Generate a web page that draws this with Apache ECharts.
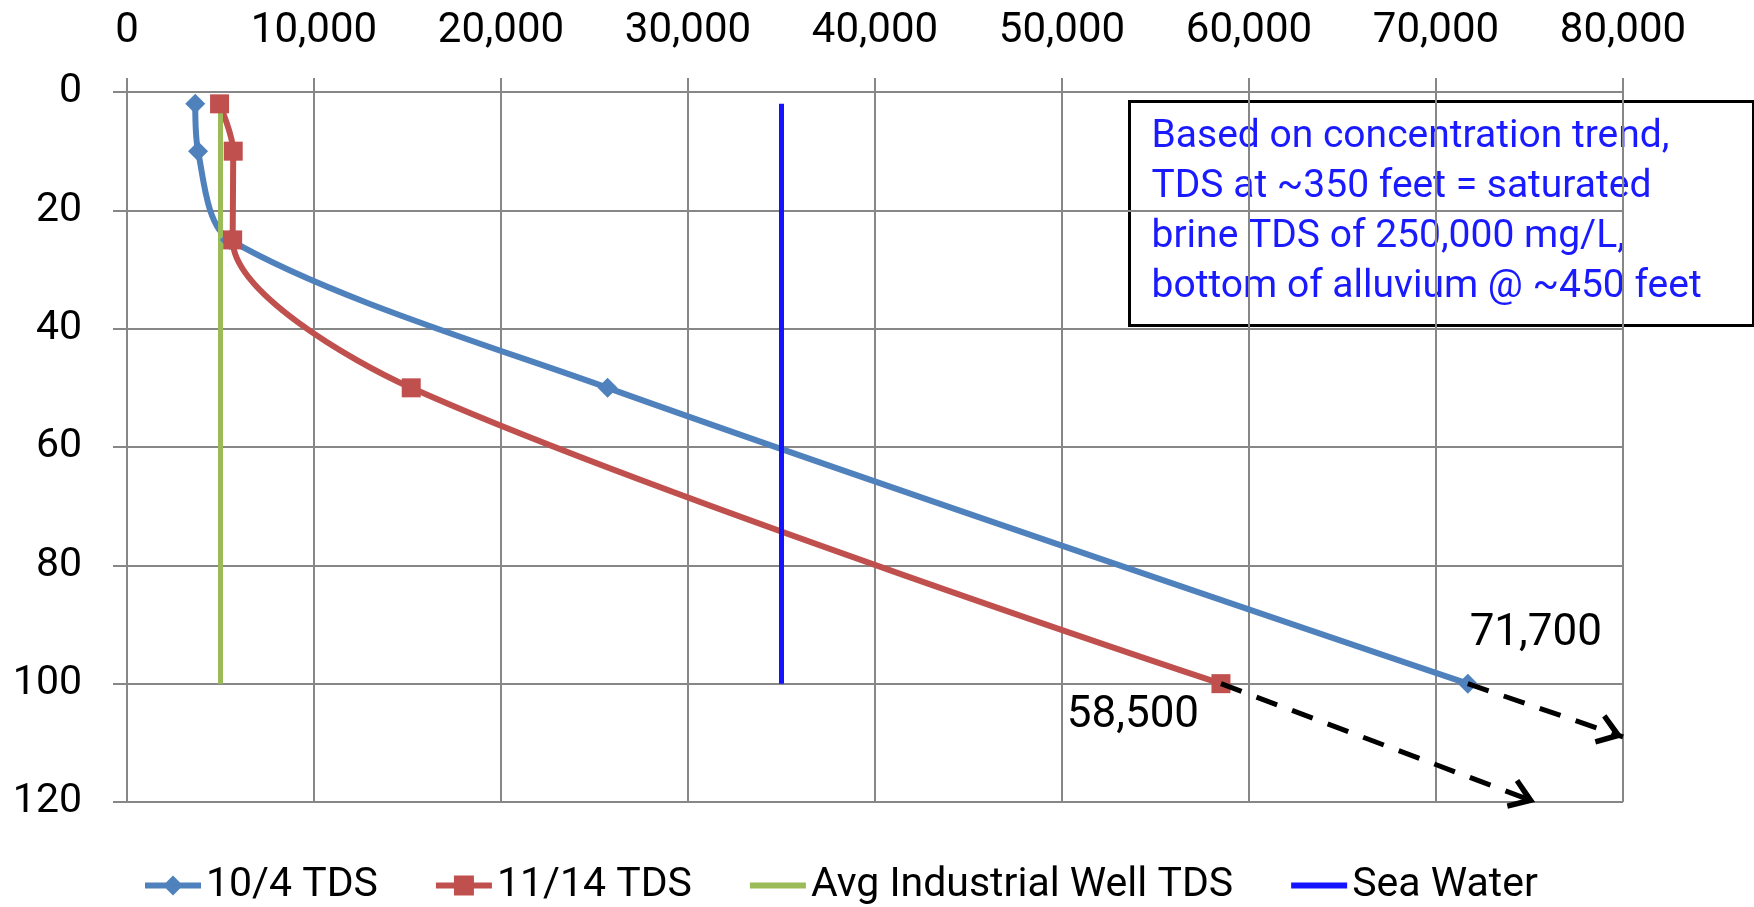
<!DOCTYPE html>
<html>
<head>
<meta charset="utf-8">
<script src="https://cdn.jsdelivr.net/npm/echarts@6/dist/echarts.min.js"></script>
<style>
  html, body { margin: 0; padding: 0; background: #fff; }
  #chart { width: 1754px; height: 907px; }
</style>
</head>
<body>
<div id="chart"></div>
<script>
// Depth below ground (feet) for each sample
const depthFt = [2, 10, 25, 50, 100];
// Total dissolved solids (mg/L) per sampling date
const tds0104 = [3650, 3800, 5500, 25700, 71700];
const tds1114 = [4950, 5680, 5650, 15200, 58500];
// Reference levels drawn as vertical lines
const industrialDepth = [2, 100];
const industrialTds = [5000, 5000];
const seaDepth = [2, 100];
const seaTds = [35000, 35000];
// Projected trend end points [TDS, depth]
const trend0104End = [80000, 109];
const trend1114End = [75300, 120];
// Axis ticks
const tdsTicks = [0, 10000, 20000, 30000, 40000, 50000, 60000, 70000, 80000];
const depthTicks = [0, 20, 40, 60, 80, 100, 120];

const seriesNames = ['10/4 TDS', '11/14 TDS', 'Avg Industrial Well TDS', 'Sea Water'];
const noteLines = [
  'Based on concentration trend,',
  'TDS at ~350 feet = saturated',
  'brine TDS of 250,000 mg/L,',
  'bottom of alluvium @ ~450 feet'
];

const FONT = 'Roboto, "Noto Sans", sans-serif';
const GRID_GRAY = '#878787';
const BLUE = '#4F81BD';
const RED = '#C0504D';
const GREEN = '#9BBB59';
const SEA = '#1414FF';
const fmt = v => Number(v).toLocaleString('en-US');

function pairs(xs, ys, labelCfg) {
  const last = xs.length - 1;
  return xs.map((x, i) => {
    const item = { value: [x, ys[i]] };
    if (labelCfg && i === last) item.label = labelCfg;
    return item;
  });
}

function valueLabel(offset) {
  return {
    show: true,
    position: 'inside',
    offset: offset,
    formatter: p => fmt(p.value[0]),
    fontFamily: FONT,
    fontSize: 44,
    color: '#000'
  };
}

// Legend keys: thick stroke with optional marker; corner dots fix the box to 56x20
const KEY_BOX = ' M0,0 L0.01,0 L0,0.01 Z M56,20 L55.99,20 L56,19.99 Z';
const KEY_LINE = 'M0,7 L56,7 L56,13 L0,13 Z';
const legendIcons = [
  'path://' + KEY_LINE + ' M28,0 L38,10 L28,20 L18,10 Z' + KEY_BOX,
  'path://' + KEY_LINE + ' M18,0 L38,0 L38,20 L18,20 Z' + KEY_BOX,
  'path://' + KEY_LINE + KEY_BOX,
  'path://' + KEY_LINE + KEY_BOX
];

// Open chevron head; the tiny dot above keeps the tip at the symbol's centre
const chevron = 'path://M0,0 L16,23 L11.5,26 L0,10 L-11.5,26 L-16,23 Z M0,-26 L0.05,-26 L0,-25.95 Z';

function trendLine(startX, startY, end) {
  return {
    silent: true,
    animation: false,
    symbol: ['none', chevron],
    symbolSize: [32, 52],
    label: { show: false },
    lineStyle: { color: '#000', width: 5, type: [22, 16], opacity: 1 },
    emphasis: { disabled: true },
    data: [[{ coord: [startX, startY] }, { coord: end }]]
  };
}

const last = depthFt.length - 1;

const option = {
  animation: false,
  backgroundColor: '#fff',
  grid: { left: 127, right: 131, top: 92, bottom: 105, outerBoundsMode: 'none' },
  xAxis: {
    type: 'value',
    position: 'top',
    min: tdsTicks[0],
    max: tdsTicks[tdsTicks.length - 1],
    interval: tdsTicks[1] - tdsTicks[0],
    axisLine: { show: true, onZero: false, lineStyle: { color: GRID_GRAY, width: 2 } },
    axisTick: { show: true, length: 14, lineStyle: { color: GRID_GRAY, width: 2 } },
    splitLine: { show: true, lineStyle: { color: GRID_GRAY, width: 2 } },
    axisLabel: { color: '#000', fontFamily: FONT, fontSize: 42, margin: 40, formatter: fmt }
  },
  yAxis: {
    type: 'value',
    inverse: true,
    min: depthTicks[0],
    max: depthTicks[depthTicks.length - 1],
    interval: depthTicks[1] - depthTicks[0],
    axisLine: { show: true, onZero: false, lineStyle: { color: GRID_GRAY, width: 2 } },
    axisTick: { show: true, length: 14, lineStyle: { color: GRID_GRAY, width: 2 } },
    splitLine: { show: true, lineStyle: { color: GRID_GRAY, width: 2 } },
    axisLabel: { color: '#000', fontFamily: FONT, fontSize: 41, margin: 45 }
  },
  legend: {
    left: 140,
    top: 860,
    itemWidth: 56,
    itemHeight: 20,
    itemGap: 58,
    textStyle: { fontFamily: FONT, fontSize: 41, color: '#000' },
    data: seriesNames.map((n, i) => ({ name: n, icon: legendIcons[i] }))
  },
  series: [
    {
      name: seriesNames[0],
      type: 'line',
      smooth: 0.3,
      symbol: 'diamond',
      symbolSize: 20,
      color: BLUE,
      lineStyle: { width: 6, color: BLUE },
      itemStyle: { color: BLUE },
      emphasis: { disabled: true },
      data: pairs(tds0104, depthFt, valueLabel([68, -50])),
      markLine: trendLine(tds0104[last], depthFt[last], trend0104End)
    },
    {
      name: seriesNames[1],
      type: 'line',
      smooth: 0.3,
      symbol: 'rect',
      symbolSize: 19,
      color: RED,
      lineStyle: { width: 6, color: RED },
      itemStyle: { color: RED },
      emphasis: { disabled: true },
      data: pairs(tds1114, depthFt, valueLabel([-88, 32])),
      markLine: trendLine(tds1114[last], depthFt[last], trend1114End)
    },
    {
      name: seriesNames[2],
      type: 'line',
      symbol: 'none',
      color: GREEN,
      lineStyle: { width: 5, color: GREEN },
      emphasis: { disabled: true },
      data: pairs(industrialTds, industrialDepth)
    },
    {
      name: seriesNames[3],
      type: 'line',
      symbol: 'none',
      color: SEA,
      lineStyle: { width: 5, color: SEA },
      emphasis: { disabled: true },
      data: pairs(seaTds, seaDepth)
    }
  ],
  graphic: [
    {
      type: 'group',
      left: 1128,
      top: 100,
      z: 100,
      children: [
        {
          type: 'rect',
          shape: { x: 0, y: 0, width: 624, height: 224 },
          style: { fill: '#fff', stroke: '#000', lineWidth: 3 }
        },
        {
          type: 'text',
          x: 22,
          y: 11,
          style: {
            text: noteLines.join('\n'),
            fontFamily: FONT,
            fontSize: 39,
            lineHeight: 50,
            fill: '#1a1aff'
          }
        }
      ]
    }
  ]
};

const chart = echarts.init(document.getElementById('chart'), null, { renderer: 'canvas' });
chart.setOption(option);
</script>
</body>
</html>
